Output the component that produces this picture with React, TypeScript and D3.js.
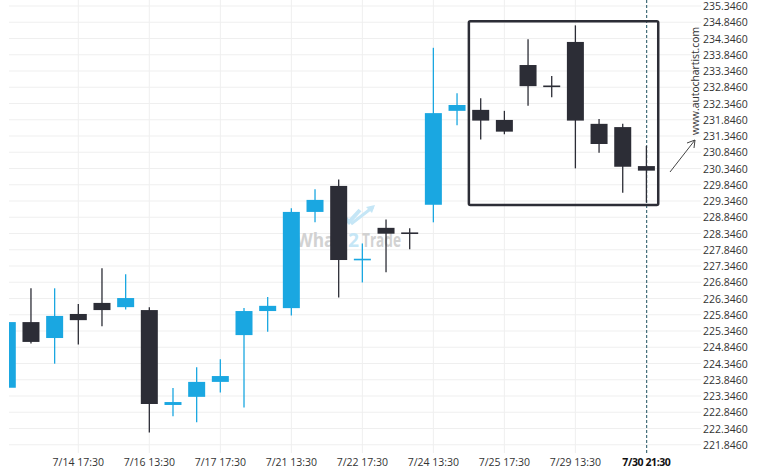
import React from "react";
import * as d3 from "d3";

const opens = [223.60, 225.62, 225.13, 225.87, 226.21, 226.08, 225.99, 223.07, 223.32, 223.78, 225.22, 225.96, 226.05, 229.01, 229.81, 227.54, 228.52, 228.36, 229.23, 232.12, 232.15, 231.84, 233.53, 232.88, 234.24, 231.72, 231.62, 230.42];
const highs = [225.62, 226.66, 226.66, 226.18, 227.28, 227.09, 226.08, 223.59, 224.23, 224.48, 226.05, 226.39, 229.12, 229.71, 230.01, 228.04, 228.78, 228.51, 234.06, 232.66, 232.51, 232.12, 234.32, 233.19, 234.75, 231.87, 231.72, 231.04];
const lows = [223.60, 224.96, 224.34, 224.93, 225.49, 226.01, 222.22, 222.72, 222.54, 223.45, 222.99, 225.32, 225.82, 228.69, 226.38, 226.84, 227.15, 227.86, 228.69, 231.68, 231.24, 231.40, 232.28, 232.54, 230.35, 230.83, 229.60, 229.30];
const closes = [225.62, 225.01, 225.81, 225.68, 225.99, 226.36, 223.10, 223.16, 223.78, 223.96, 225.96, 226.12, 229.01, 229.38, 227.53, 227.55, 228.34, 228.35, 232.05, 232.30, 231.82, 231.48, 232.88, 232.87, 231.82, 231.10, 230.40, 230.28];

const xLabelIdx = [3, 6, 9, 12, 15, 18, 21, 24, 27];
const xLabels = ["7/14 17:30", "7/16 13:30", "7/17 17:30", "7/21 13:30", "7/22 17:30", "7/24 13:30", "7/25 17:30", "7/29 13:30", "7/30 21:30"];

const priceTicks = d3.range(0, 28).map((k) => 221.846 + 0.5 * k);

const rectStartIdx = 19.5;
const rectEndIdx = 27.5;
const rectTop = 234.875;
const rectBottom = 229.223;
const currentIdx = 27;

const BLUE = "#1aa7e1";
const DARK = "#2c2d36";

export default function App() {
  const W = 760;
  const H = 475;
  const x = d3.scaleLinear().domain([0, 27]).range([7.3, 646.4]);
  const y = d3.scaleLinear().domain([221.846, 235.346]).range([444.75, 6]);
  const plotLeft = 9;
  const plotRight = 701;
  const plotBottom = 453;
  const bw = 17;

  return (
    <svg width={W} height={H} style={{ position: "absolute", left: 0, top: 0, background: "#fff" }} fontFamily="'Open Sans', 'Noto Sans', sans-serif">
      <defs>
        <clipPath id="plotClip">
          <rect x={plotLeft} y={0} width={plotRight - plotLeft} height={plotBottom} />
        </clipPath>
      </defs>
      <rect x={0} y={0} width={W} height={H} fill="#fff" />
      {/* horizontal grid */}
      {priceTicks.map((p, i) => (
        <line key={"h" + i} x1={plotLeft} x2={plotRight} y1={y(p)} y2={y(p)} stroke="#efefef" strokeWidth={1} />
      ))}
      {/* vertical grid */}
      {xLabelIdx.slice(0, -1).map((idx, i) => (
        <line key={"v" + i} x1={x(idx)} x2={x(idx)} y1={0} y2={plotBottom} stroke="#efefef" strokeWidth={1} />
      ))}
      {/* watermark */}
      <g>
        <path d="M341,214 L349,222 L360,210" fill="none" stroke="#c5e6f6" strokeWidth={4} />
        <path d="M351,224 L373,207" fill="none" stroke="#c5e6f6" strokeWidth={3} />
        <path d="M366,207 L375,205 L372,213 Z" fill="#c5e6f6" />
        <text x={296} y={247} fontSize={20} fontWeight="bold" fill="#d2d2d2" textLength={46} lengthAdjust="spacingAndGlyphs">What</text>
        <text x={348} y={247} fontSize={20} fontWeight="bold" fill="#c5e6f6" textLength={11} lengthAdjust="spacingAndGlyphs">2</text>
        <text x={362} y={247} fontSize={20} fontWeight="bold" fill="#d2d2d2" textLength={39} lengthAdjust="spacingAndGlyphs">Trade</text>
      </g>
      {/* current time dashed line */}
      <line x1={x(currentIdx) + 0.3} x2={x(currentIdx) + 0.3} y1={0} y2={455} stroke="#1d4f5e" strokeWidth={1} strokeDasharray="3,2" />
      {/* candles */}
      <g clipPath="url(#plotClip)">
        {opens.map((o, i) => {
          const c = closes[i];
          const up = c >= o;
          const col = up ? BLUE : DARK;
          const cx = x(i);
          const top = y(Math.max(o, c));
          const bot = y(Math.min(o, c));
          const h = Math.max(1.6, bot - top);
          return (
            <g key={"c" + i}>
              <line x1={cx} x2={cx} y1={y(highs[i])} y2={y(lows[i])} stroke={col} strokeWidth={1.3} />
              <rect x={cx - bw / 2} y={top - (h > bot - top ? (h - (bot - top)) / 2 : 0)} width={bw} height={h} fill={col} />
            </g>
          );
        })}
      </g>
      {/* pattern rectangle */}
      <rect
        x={x(rectStartIdx)}
        y={y(rectTop)}
        width={x(rectEndIdx) - x(rectStartIdx)}
        height={y(rectBottom) - y(rectTop)}
        fill="none"
        stroke={DARK}
        strokeWidth={2.5}
        rx={1.5}
      />
      {/* y labels */}
      {priceTicks.map((p, i) => (
        <text key={"yl" + i} x={703} y={y(p) + 4} fontSize={10.5} fill="#333">
          {p.toFixed(4)}
        </text>
      ))}
      {/* x labels */}
      {xLabelIdx.map((idx, i) => (
        <text
          key={"xl" + i}
          x={x(idx)}
          y={466}
          fontSize={10.5}
          textAnchor="middle"
          fill={i === xLabelIdx.length - 1 ? "#111" : "#333"}
          fontWeight={i === xLabelIdx.length - 1 ? "bold" : "normal"}
          letterSpacing={i === xLabelIdx.length - 1 ? -0.4 : 0}
        >
          {xLabels[i]}
        </text>
      ))}
      {/* autochartist watermark */}
      <text transform="translate(699,135) rotate(-90)" fontSize={10.5} fill="#333" textLength={108} lengthAdjust="spacingAndGlyphs">
        www.autochartist.com
      </text>
      {/* arrow */}
      <g stroke="#444" strokeWidth={1} fill="none">
        <line x1={670} y1={172} x2={695} y2={140} />
        <path d="M687,143 L695,140 L694,148" />
      </g>
    </svg>
  );
}
